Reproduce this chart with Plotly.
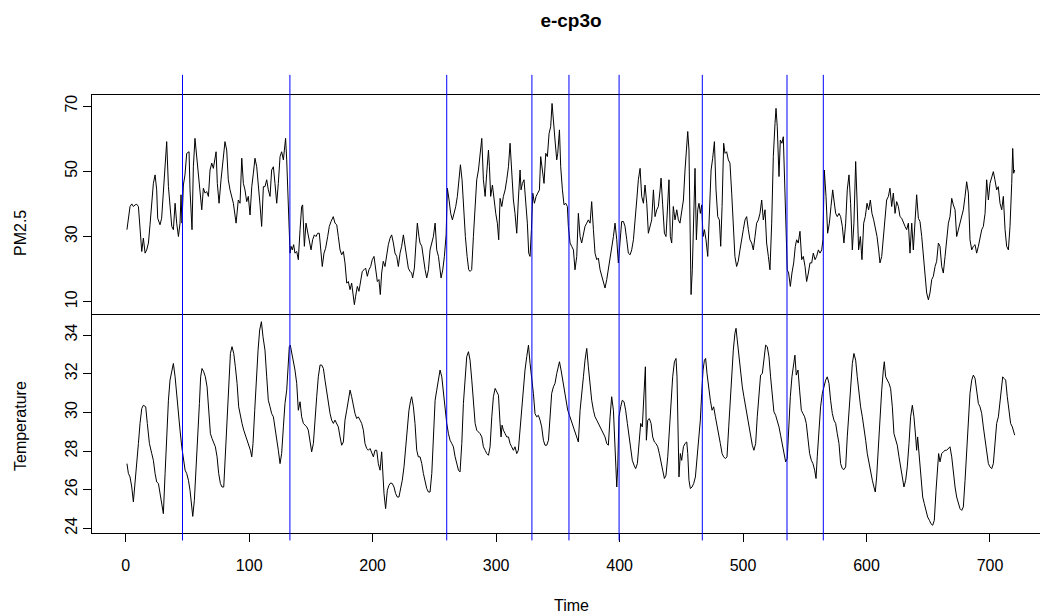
import plotly.graph_objects as go

# Hourly PM2.5 readings (time, value)
pm25 = [
    (1, 32.1), (3.5, 39.2), (4.9, 40.0), (6.2, 39.2), (7.6, 39.7), (8.9, 39.9), (10.3, 39.2), (11.6, 31.0),
    (13.0, 25.4), (14.3, 29.5), (15.7, 24.9), (17.0, 25.9), (18.4, 28.0), (19.7, 33.6), (21.1, 39.2), (22.4, 46.3),
    (23.8, 48.9), (25.1, 44.3), (25.9, 35.6), (27.8, 33.6), (29.1, 35.6), (30.5, 44.3), (31.9, 51.4), (33.2, 59.1),
    (34.6, 45.3), (35.9, 40.2), (37.3, 33.1), (38.6, 32.1), (40.0, 40.2), (41.3, 34.1), (42.7, 30.0), (44.0, 34.1),
    (44.8, 42.8), (45.6, 34.1), (46.7, 45.8), (48.0, 48.9), (49.4, 55.5), (51.3, 56.0), (52.1, 44.3), (53.7, 32.1),
    (54.8, 51.4), (56.1, 60.1), (57.5, 54.5), (58.8, 50.4), (60.2, 44.3), (61.6, 38.2), (62.9, 44.8), (64.3, 43.3),
    (65.6, 43.8), (67.0, 42.3), (68.3, 50.4), (69.7, 52.5), (71.0, 50.9), (72.4, 53.5), (73.2, 56.0), (74.2, 46.3),
    (75.6, 40.2), (77.2, 47.4), (79.1, 54.5), (80.4, 59.1), (81.8, 56.5), (83.1, 47.4), (84.5, 44.3), (85.8, 42.3),
    (87.2, 40.2), (89.4, 34.1), (91.2, 41.2), (92.6, 40.2), (94.0, 54.0), (95.3, 46.3), (96.6, 44.3), (98.0, 40.7),
    (99.3, 42.3), (100.7, 36.6), (102.1, 45.3), (103.4, 49.4), (104.7, 54.0), (106.1, 51.4), (107.4, 44.3),
    (108.8, 39.7), (110.1, 33.1), (111.5, 45.3),
    (112.8, 45.3), (114.2, 47.4), (115.5, 44.3), (116.9, 42.3), (118.2, 50.4), (119.6, 51.4), (120.9, 46.3),
    (122.3, 40.2), (123.6, 46.3), (125.0, 54.5), (126.3, 56.0), (127.7, 53.5), (128.5, 56.5), (129.5, 60.1),
    (130.4, 53.5), (131.2, 44.3), (132.2, 36.1), (133.1, 24.9), (133.9, 27.0), (134.9, 25.9), (136.0, 27.5),
    (137.1, 24.9), (138.5, 25.4), (139.8, 22.9), (141.2, 32.1), (142.5, 39.2), (143.3, 39.7), (144.7, 27.0),
    (146.0, 34.1), (147.4, 31.0), (148.7, 28.0), (150.1, 25.9), (151.4, 29.0), (152.8, 30.5), (154.1, 30.0),
    (155.5, 31.0), (156.8, 31.0), (158.2, 25.9), (159.2, 20.8), (160.6, 24.9), (161.9, 26.4), (163.6, 30.0),
    (164.9, 33.1), (166.3, 34.6), (168.1, 36.1), (169.5, 34.1), (170.9, 33.6), (172.2, 30.0), (173.6, 25.9),
    (174.9, 24.4), (176.3, 25.4), (177.6, 21.9), (179.0, 15.7), (180.3, 16.2), (181.7, 13.7), (183.0, 15.7),
    (184.4, 12.2), (185.2, 9.1), (186.2, 11.7), (187.6, 14.7), (188.9, 13.2), (190.3, 16.8), (191.6, 19.3),
    (193.0, 19.8), (194.3, 20.3), (195.7, 17.8), (197.0, 19.8), (198.4, 20.8), (199.7, 22.9), (201.1, 23.9),
    (202.4, 19.8), (203.8, 16.2), (205.1, 16.8), (206.2, 12.2), (207.3, 18.8), (208.6, 22.4), (210.0, 20.8),
    (211.4, 24.9), (212.7, 27.5), (214.1, 29.5), (215.4, 30.5), (216.8, 28.0), (218.1, 24.9), (219.5, 23.9),
    (220.8, 20.8), (222.2, 24.9), (223.5, 27.0), (224.9, 30.5), (226.2, 27.0), (227.6, 22.9), (228.9, 20.3),
    (230.3, 19.3), (231.6, 18.8), (232.4, 17.3), (233.8, 20.3), (235.1, 28.0), (236.2, 34.1), (237.5, 30.0),
    (238.4, 28.0), (239.8, 27.0), (241.1, 22.9), (242.5, 19.8), (243.8, 17.3), (245.2, 19.8), (246.5, 25.9),
    (247.9, 28.0), (249.2, 30.0), (250.6, 34.1), (251.9, 25.9), (253.3, 23.9), (254.6, 19.8), (255.4, 17.3),
    (256.8, 19.8), (258.1, 23.9), (259.5, 30.5), (260.5, 44.8), (261.9, 41.2), (263.2, 37.1), (264.6, 35.1),
    (265.9, 37.1), (267.3, 39.2), (268.6, 42.3), (270.0, 48.4), (271.1, 52.0), (272.4, 47.4), (273.8, 36.1),
    (275.1, 30.0), (276.5, 23.9), (277.8, 19.8), (278.9, 19.3), (280.2, 19.8), (281.6, 30.0), (283.0, 40.7),
    (284.3, 47.4), (285.7, 50.4), (287.0, 54.5), (288.4, 60.1), (289.7, 47.4), (291.1, 42.3), (292.4, 49.4),
    (293.8, 56.5), (294.6, 51.4), (295.6, 42.3), (297.0, 45.8), (298.3, 41.2), (299.7, 37.1), (301.0, 34.1),
    (302.1, 29.0), (303.2, 41.7), (304.6, 39.2), (305.9, 42.3), (307.3, 44.3), (308.6, 47.4), (310.0, 51.4),
    (311.3, 58.6), (312.6, 49.4), (314.0, 41.2), (315.3, 37.1), (316.7, 31.0), (318.0, 41.2), (319.4, 50.4),
    (320.2, 44.3), (321.3, 46.3), (322.6, 47.4), (324.0, 40.2), (325.3, 34.1), (326.4, 24.9), (327.5, 23.9),
    (328.6, 32.1), (329.7, 43.3), (331.0, 40.2), (332.4, 42.3), (333.7, 43.3), (335.1, 44.3), (336.1, 54.5),
    (337.5, 50.4), (338.8, 46.3), (340.2, 55.5), (341.5, 54.5), (342.9, 61.6), (344.2, 63.7), (345.3, 70.8),
    (346.4, 64.7), (347.7, 59.6), (349.1, 53.5), (349.9, 55.5), (351.3, 62.7), (352.3, 51.4), (353.7, 44.3),
    (355.0, 39.7), (356.4, 40.2), (357.7, 39.2), (358.5, 33.1), (359.9, 28.0), (361.2, 27.0), (362.6, 25.9),
    (363.9, 19.8), (365.3, 23.9), (366.6, 37.1), (368.0, 30.0), (369.3, 28.0), (370.7, 31.0), (372.0, 33.1),
    (373.4, 34.1), (374.7, 35.1), (376.1, 34.1), (377.4, 40.7), (378.8, 32.1), (380.1, 24.9), (381.5, 22.9),
    (382.8, 23.4), (384.2, 19.8), (385.5, 17.8), (386.9, 15.7), (388.2, 14.2), (389.6, 16.8), (390.9, 19.8),
    (392.3, 23.9), (393.6, 25.9), (395.0, 30.0), (396.3, 34.1), (397.7, 29.0), (399.0, 21.9), (400.4, 30.0),
    (401.7, 34.6), (403.1, 34.6), (404.4, 33.1), (405.8, 29.0), (407.1, 24.9), (408.5, 24.4), (409.8, 25.9),
    (411.2, 29.0), (412.5, 34.1), (413.9, 41.2), (415.2, 47.4), (416.6, 50.9), (417.9, 42.3), (419.3, 40.2),
    (420.6, 45.8), (422.0, 40.2), (423.3, 31.0), (424.7, 33.1), (426.0, 35.1), (427.4, 44.3), (428.7, 36.1),
    (430.1, 38.2), (431.4, 39.2), (432.8, 44.3), (433.6, 47.9), (434.9, 39.7), (436.3, 31.0), (437.6, 30.0),
    (439.0, 40.2), (440.0, 47.4), (441.1, 30.0), (442.2, 28.0), (443.5, 39.2), (444.9, 35.1), (446.3, 38.2),
    (447.6, 35.1), (448.9, 34.1), (450.3, 37.1), (451.7, 41.2), (453.0, 50.4), (454.1, 55.5), (455.2, 62.2),
    (456.2, 56.5), (457.3, 16.8), (457.9, 12.2), (458.9, 19.8), (460.0, 41.2), (461.1, 50.9), (462.2, 29.0),
    (463.3, 38.2), (464.3, 40.2), (465.4, 37.1), (466.5, 39.7), (467.6, 30.0), (468.7, 32.1), (470.0, 29.0),
    (471.4, 23.9), (472.7, 35.1), (474.1, 50.4), (475.4, 54.0), (476.8, 59.1), (478.1, 44.3), (479.5, 36.1),
    (480.8, 35.1), (481.9, 27.0), (483.0, 39.2), (484.3, 58.6), (485.4, 55.5), (486.7, 56.0), (488.1, 53.5),
    (489.4, 52.5), (490.8, 43.3), (492.1, 32.1), (493.4, 23.9), (494.8, 20.8), (496.1, 22.4), (497.5, 25.9),
    (498.9, 30.0), (500.2, 32.1), (501.6, 35.1), (502.9, 36.1), (504.3, 32.1), (505.6, 29.0), (507.0, 28.0),
    (508.3, 25.9), (509.7, 30.0), (511.0, 34.1), (512.4, 35.1), (513.7, 37.1), (515.1, 41.2), (516.4, 35.1),
    (517.8, 38.2), (519.1, 28.0), (520.5, 23.9), (521.8, 19.8), (523.2, 34.1), (524.5, 54.5), (525.9, 64.7),
    (526.7, 69.3), (527.7, 63.7), (529.1, 48.4), (530.2, 59.6), (531.5, 58.6), (532.6, 60.6), (533.4, 48.4),
    (534.8, 28.0), (535.8, 19.8), (536.9, 18.8), (538.3, 14.7), (539.6, 18.8), (541.0, 21.9), (542.3, 26.9),
    (543.4, 29.0), (544.7, 28.0), (546.1, 31.6), (547.5, 22.9), (548.8, 23.9), (550.2, 20.8), (551.5, 16.2),
    (552.9, 18.8), (554.2, 21.9), (555.6, 21.9), (556.9, 24.9), (558.3, 22.9), (559.6, 23.9), (561.0, 25.9),
    (562.3, 24.9), (563.7, 25.9), (564.7, 29.0), (565.8, 50.4), (567.2, 42.3), (568.5, 31.0), (569.9, 34.1),
    (571.2, 39.2), (572.6, 44.3), (573.6, 41.2), (575.0, 37.1), (576.3, 36.1), (577.7, 37.1), (579.0, 36.1),
    (580.4, 33.1), (581.7, 28.0), (583.1, 34.1), (584.4, 44.3), (585.8, 48.9), (587.1, 40.2), (588.5, 25.9),
    (589.8, 34.1), (591.2, 53.0), (592.3, 41.2), (593.6, 25.9), (595.0, 30.0), (596.3, 22.9), (597.7, 34.1),
    (599.0, 36.1), (600.4, 40.2), (601.7, 38.2), (603.1, 41.2), (604.4, 37.1), (605.8, 35.1), (607.1, 33.1),
    (608.5, 30.0), (609.8, 25.9),
    (610.9, 21.9), (612.3, 23.9), (613.6, 29.0), (615.0, 36.1), (616.3, 41.2), (617.7, 42.3), (619.0, 44.8),
    (620.4, 39.2), (621.7, 43.3), (623.1, 37.1), (624.4, 40.7), (625.8, 39.2), (627.1, 36.1), (628.5, 35.6),
    (629.8, 34.1), (631.2, 33.1), (632.5, 32.1), (633.9, 34.1), (635.2, 24.9), (636.6, 34.1), (637.9, 25.9),
    (639.3, 35.6), (640.6, 42.8), (642.0, 35.6), (643.3, 34.6), (644.7, 30.0), (646.0, 24.9), (647.4, 18.8),
    (648.7, 12.7), (650.1, 10.6), (651.4, 12.7), (652.8, 16.8), (654.1, 17.8), (655.5, 20.8), (656.8, 22.4),
    (658.2, 28.0), (659.5, 27.0), (660.9, 20.8), (662.2, 18.8), (663.6, 23.9), (664.9, 28.0), (666.3, 34.1),
    (667.6, 36.1), (669.0, 41.7), (670.3, 39.7), (671.7, 38.2), (673.0, 30.0), (674.4, 32.1), (675.7, 34.1),
    (677.1, 36.1), (678.4, 38.2), (679.8, 42.3), (681.1, 46.8), (682.5, 43.3), (683.8, 29.0), (685.2, 25.9),
    (686.5, 27.0), (687.9, 27.5), (689.2, 24.9), (690.6, 27.0), (691.9, 30.0), (693.3, 32.1), (694.6, 33.1),
    (696.0, 37.1), (697.3, 47.4), (698.7, 41.2), (700.0, 46.3), (701.4, 48.4), (702.7, 49.9), (704.0, 47.4),
    (705.4, 44.3), (706.7, 45.3), (708.1, 40.2), (709.5, 38.2), (710.8, 42.3), (712.2, 32.1), (713.5, 27.0),
    (714.9, 25.9), (716.2, 33.1), (717.6, 46.3), (718.4, 57.0), (719.2, 49.4), (720.0, 50.4),
]

# Hourly temperature readings (time, value)
temperature = [
    (1, 27.35), (2.2, 26.84), (3.5, 26.66), (4.9, 26.14), (6.2, 25.37), (7.6, 26.32), (8.9, 27.18), (10.3, 28.39),
    (11.6, 29.43), (13.0, 30.20), (14.3, 30.37), (16.2, 30.29), (17.5, 29.43), (19.2, 28.39), (21.1, 27.87),
    (22.4, 27.52), (23.8, 26.84), (25.1, 26.40), (26.5, 26.32), (27.8, 25.80), (29.2, 25.28), (30.5, 24.76),
    (31.9, 26.84), (33.2, 28.73), (34.6, 30.63), (35.9, 31.67), (37.3, 32.19), (38.6, 32.53), (40.0, 31.84),
    (41.3, 30.81), (42.7, 29.94), (44.0, 29.08), (45.4, 28.22), (46.7, 27.70), (48.1, 27.01), (49.4, 26.84),
    (50.8, 26.49), (52.1, 25.97), (53.5, 25.11), (54.3, 24.62), (55.6, 25.45), (57.0, 27.01), (58.3, 28.73),
    (59.7, 30.46), (60.7, 31.84), (61.8, 32.27), (63.2, 32.10), (64.5, 31.84), (65.9, 31.32), (67.2, 30.11),
    (68.6, 28.90), (69.9, 28.65), (71.3, 28.47), (72.6, 28.22), (74.0, 27.70), (75.3, 26.84), (76.7, 26.32),
    (78.0, 26.14), (79.4, 26.14), (80.7, 27.87), (82.1, 29.77), (83.4, 31.84), (84.8, 33.05), (86.1, 33.40),
    (87.5, 33.05), (88.8, 32.36), (90.2, 31.50), (91.5, 30.29), (92.9, 29.77), (94.2, 29.43), (95.6, 29.08),
    (96.9, 28.82), (98.3, 28.56), (99.6, 28.39), (101.0, 28.04), (102.1, 27.70), (103.1, 28.39), (104.5, 30.11),
    (105.8, 31.84), (107.2, 33.22), (108.5, 34.26), (109.9, 34.69), (111.2, 33.91),
    (112.8, 33.22), (114.2, 31.84), (115.5, 30.63), (116.9, 30.29), (118.2, 29.94), (119.6, 29.77), (120.9, 29.25),
    (122.3, 28.73), (123.6, 28.04), (125.0, 27.35), (126.3, 27.87), (127.7, 29.25), (129.0, 30.46), (130.4, 31.15),
    (131.7, 32.88), (132.5, 33.40), (133.3, 33.48), (134.4, 33.14), (135.8, 32.70), (137.1, 32.19), (138.5, 31.50),
    (139.8, 30.11), (141.2, 30.55), (142.5, 29.77), (143.9, 29.43), (145.2, 29.34), (146.6, 29.25), (147.9, 29.08),
    (149.3, 28.56), (150.6, 27.96), (152.0, 28.39), (153.3, 29.77), (154.7, 30.81), (156.0, 31.84), (157.4, 32.45),
    (158.7, 32.45), (160.1, 32.27), (161.4, 31.67), (162.8, 30.98), (164.1, 30.46), (165.5, 29.94), (166.8, 29.60),
    (168.2, 29.43), (169.5, 29.60), (170.9, 29.43), (172.2, 29.25), (173.6, 28.73), (174.9, 28.30), (176.3, 28.47),
    (177.6, 29.60), (179.0, 30.11), (180.3, 30.63), (181.7, 31.15), (183.0, 30.81), (184.4, 30.29), (185.7, 29.94),
    (187.1, 29.68), (188.4, 29.77), (189.8, 29.60), (191.1, 29.43), (192.5, 29.08), (193.8, 28.39), (195.2, 28.13),
    (196.5, 28.04), (197.9, 28.13), (199.2, 27.96), (200.6, 27.70), (201.9, 28.04), (203.3, 28.04), (204.6, 27.35),
    (206.0, 27.01), (207.3, 27.96), (208.1, 26.84), (209.2, 25.80), (210.5, 25.02), (211.9, 25.97), (213.2, 26.23),
    (214.6, 26.35), (215.9, 26.32), (217.3, 26.14), (218.6, 25.80), (220.0, 25.62), (221.3, 25.62), (222.7, 26.06),
    (224.0, 26.49), (225.4, 27.18), (226.7, 28.22), (228.1, 29.25), (229.4, 30.11), (230.8, 30.63), (231.6, 30.81),
    (233.0, 30.29), (234.3, 29.43), (235.7, 28.04), (237.0, 27.70),
    (238.4, 27.70), (239.8, 27.35), (241.1, 26.84), (242.5, 26.32), (243.8, 26.06), (245.2, 25.88), (246.5, 25.88),
    (247.9, 26.84), (249.2, 28.73), (250.6, 30.63), (251.9, 31.15), (253.3, 31.67), (254.6, 32.19), (256.0, 31.84),
    (257.3, 30.98), (258.7, 30.11), (260.0, 29.43), (261.4, 28.90), (262.7, 28.56), (264.1, 28.39), (265.4, 28.22),
    (266.8, 27.70), (268.1, 27.35), (269.5, 27.01), (270.8, 26.92), (272.2, 28.39), (273.5, 30.46), (274.9, 31.84),
    (276.2, 32.88), (277.6, 33.14), (278.9, 32.70), (280.3, 31.67), (281.6, 30.46), (283.0, 29.43), (284.3, 29.08),
    (285.7, 28.99), (287.0, 28.90), (288.4, 28.73), (289.7, 28.22), (291.1, 28.04), (292.4, 27.87), (293.8, 27.78),
    (295.1, 28.22), (296.5, 29.77), (297.8, 30.81), (299.2, 31.24), (300.5, 31.07), (301.9, 30.89), (303.2, 29.43),
    (304.0, 28.73), (304.8, 29.34), (305.9, 29.08), (307.3, 28.90), (308.6, 28.73), (310.0, 28.73), (311.3, 28.39),
    (312.6, 28.22), (314.0, 28.04), (315.3, 28.22), (316.7, 27.87), (318.0, 28.04), (319.4, 29.08), (320.7, 30.46),
    (322.1, 31.50), (323.4, 32.19), (324.8, 32.88), (326.2, 33.48), (327.5, 32.53), (328.8, 31.84), (330.2, 30.98),
    (331.5, 29.94), (332.9, 29.77), (334.2, 29.85), (335.6, 29.60), (336.9, 29.25), (338.3, 28.56), (339.6, 28.30),
    (341.0, 28.30), (342.4, 28.56), (343.7, 30.11), (345.0, 30.98), (346.4, 31.32), (347.7, 31.50), (349.1, 32.01),
    (350.4, 32.45), (351.3, 32.62), (352.6, 32.19), (354.0, 31.67), (355.3, 31.15), (356.7, 30.63), (358.0, 30.11),
    (359.4, 29.85), (360.7, 29.60), (362.1, 29.25),
    (363.9, 28.90), (365.3, 28.73), (366.6, 28.47), (368.0, 30.11), (369.3, 31.15), (370.7, 31.84), (372.0, 32.70),
    (373.4, 33.31), (374.7, 32.36), (376.1, 31.32), (377.4, 30.63), (378.8, 30.11), (380.1, 29.77), (381.5, 29.60),
    (382.8, 29.43), (384.2, 29.25), (385.5, 29.08), (386.9, 28.90), (388.2, 28.73), (389.6, 28.39), (390.9, 28.30),
    (392.3, 29.77), (393.6, 30.81), (395.0, 30.11), (396.3, 27.87), (397.7, 26.14), (398.5, 27.18), (399.5, 29.77),
    (400.9, 30.29), (402.2, 30.63), (403.6, 30.55), (404.9, 30.11), (406.3, 29.43), (407.6, 28.73), (409.0, 28.04),
    (410.3, 27.52), (411.7, 27.27), (413.0, 27.09), (414.4, 27.35), (415.7, 28.39), (417.1, 29.43), (418.4, 29.25),
    (419.8, 30.98), (420.9, 32.36), (421.7, 28.56), (422.8, 29.60), (424.1, 29.68), (425.5, 29.43), (426.8, 28.73),
    (428.2, 28.47), (429.5, 28.39), (430.9, 28.22), (432.2, 27.87), (433.6, 27.35), (434.9, 27.01), (436.3, 26.58),
    (437.6, 26.75), (439.0, 27.70), (440.3, 29.25), (441.7, 30.63), (443.0, 31.84), (444.4, 32.62), (445.7, 32.79),
    (446.5, 31.84), (447.3, 28.39), (448.1, 26.66), (449.2, 27.87), (450.3, 27.52), (451.7, 28.22), (453.0, 28.39),
    (454.4, 28.47), (455.2, 27.87), (456.2, 26.49), (457.3, 26.06), (458.7, 26.14), (460.0, 26.32), (461.4, 26.66),
    (462.7, 27.52), (464.1, 28.56), (465.4, 29.60), (466.5, 30.98), (467.6, 32.19), (468.7, 32.70), (469.7, 32.79),
    (470.8, 32.01), (472.2, 31.15), (473.5, 30.63), (474.9, 30.11), (476.2, 30.29), (477.6, 29.77), (478.9, 29.25),
    (480.3, 28.90), (481.6, 28.39), (483.0, 27.87), (484.3, 27.70), (485.7, 27.61), (487.0, 27.70), (488.4, 29.25),
    (489.7, 30.81), (490.8, 31.50), (492.1, 33.22), (493.4, 34.09), (494.3, 34.35), (495.3, 33.74), (496.7, 32.88),
    (498.0, 32.19), (499.4, 31.32), (500.7, 30.81), (502.1, 30.29), (503.4, 29.77), (504.8, 29.25), (506.1, 28.73),
    (507.5, 28.30), (508.8, 28.04), (510.2, 28.39), (511.5, 29.77), (512.9, 30.98), (514.2, 31.93), (515.6, 32.01),
    (516.9, 32.70), (518.3, 33.48), (519.6, 33.40), (521.0, 32.88), (522.3, 31.84), (523.7, 30.81), (525.0, 30.03),
    (526.4, 29.85), (527.7, 29.60), (529.1, 29.25), (530.4, 28.82), (531.8, 28.39), (533.1, 27.87), (534.5, 27.44),
    (535.8, 27.61), (536.9, 29.25), (538.3, 30.81), (539.6, 31.84), (541.0, 32.45), (542.0, 32.96), (543.1, 31.93),
    (544.5, 32.19), (545.8, 31.15), (547.2, 30.11), (548.5, 29.94), (549.9, 29.77), (551.2, 29.43), (552.6, 28.73),
    (553.9, 27.87), (555.3, 27.52), (556.6, 27.35), (558.0, 27.01), (559.1, 26.58), (560.1, 27.70), (561.5, 29.25),
    (562.8, 30.29), (564.2, 30.98), (565.5, 31.32), (566.9, 31.67), (568.2, 31.84), (569.6, 31.50), (570.9, 30.63),
    (572.3, 29.94), (573.6, 29.60), (575.0, 29.43), (576.3, 28.90), (577.7, 28.39), (579.0, 27.35), (580.4, 27.09),
    (581.7, 27.04), (583.1, 27.18), (584.4, 28.73), (585.8, 30.11), (587.1, 31.32), (588.5, 32.53), (589.8, 33.05),
    (591.2, 32.70), (592.5, 31.84), (593.9, 30.98), (595.2, 30.29), (596.6, 29.77), (597.9, 29.25), (599.3, 28.56),
    (600.6, 27.87), (602.0, 27.35), (603.3, 26.84), (604.7, 26.49), (606.0, 26.14), (607.1, 25.88), (608.2, 26.66),
    (609.6, 28.39),
    (610.9, 29.77), (612.3, 31.15), (613.6, 32.19), (614.4, 32.62), (615.5, 31.84), (616.8, 31.67), (618.2, 31.50),
    (619.5, 31.24), (620.9, 30.29), (622.2, 28.90), (623.6, 28.56), (624.9, 28.30), (626.3, 27.70), (627.6, 27.18),
    (629.0, 26.66), (630.3, 26.14), (631.7, 26.49), (633.0, 27.18), (634.4, 28.39), (635.7, 29.77), (637.1, 30.37),
    (638.4, 29.77), (639.8, 28.73), (640.6, 28.04), (641.4, 28.73), (642.8, 27.52), (644.1, 26.49), (645.5, 25.62),
    (646.8, 25.28), (648.2, 24.93), (649.5, 24.59), (650.9, 24.42), (652.2, 24.24), (653.6, 24.16), (654.9, 24.42),
    (656.3, 25.97), (657.6, 27.52), (658.4, 27.87), (659.5, 27.44), (660.9, 27.87), (662.2, 27.96), (663.6, 28.04),
    (664.9, 28.04), (666.3, 28.13), (667.6, 28.22), (669.0, 27.70), (670.3, 26.84), (671.7, 26.14), (673.0, 25.62),
    (674.4, 25.28), (675.7, 25.02), (677.1, 24.93), (678.4, 25.11), (679.8, 26.49), (681.1, 28.04), (682.5, 29.43),
    (683.8, 30.98), (685.2, 31.67), (686.5, 31.93), (687.9, 31.76), (689.2, 31.15), (690.6, 30.46), (691.9, 30.29),
    (693.3, 29.94), (694.6, 29.25), (696.0, 28.56), (697.3, 27.87), (698.7, 27.35), (700.0, 27.18), (701.4, 27.09),
    (702.7, 27.35), (704.1, 28.39), (705.4, 29.43), (706.8, 29.77), (708.1, 30.63), (709.5, 31.67), (710.3, 31.84),
    (711.3, 31.76), (712.7, 31.67), (714.0, 30.81), (715.4, 29.94), (716.7, 29.43), (718.1, 29.25), (719.4, 28.99),
    (720.0, 28.82),
]

# Estimated change points
change_points = [46, 133, 260, 329, 359, 399.6, 467, 535.6, 565]

x_ticks = [0, 100, 200, 300, 400, 500, 600, 700]
pm_ticks = [10, 30, 50, 70]
temp_ticks = [24, 26, 28, 30, 32, 34]

FONT = "Liberation Sans, Arial, sans-serif"

pm_t, pm_v = zip(*pm25)
tp_t, tp_v = zip(*temperature)

fig = go.Figure()
fig.add_trace(go.Scatter(x=pm_t, y=pm_v, mode="lines", xaxis="x2", yaxis="y2",
                         line=dict(color="black", width=1), showlegend=False, hoverinfo="skip"))
fig.add_trace(go.Scatter(x=tp_t, y=tp_v, mode="lines", xaxis="x", yaxis="y",
                         line=dict(color="black", width=1), showlegend=False, hoverinfo="skip"))

# Change-point markers spanning both panels
for cp in change_points:
    fig.add_shape(type="line", xref="x", yref="paper", x0=cp, x1=cp, y0=-0.017, y1=1.046,
                  line=dict(color="rgb(0,0,255)", width=1), layer="above")

axis_common = dict(showgrid=False, zeroline=False, color="black",
                   tickfont=dict(family=FONT, size=16, color="black"))

fig.update_layout(
    width=1040, height=613,
    margin=dict(l=92, r=0, t=95, b=80),
    plot_bgcolor="white", paper_bgcolor="white",
    title=dict(text="<b>e-cp3o</b>", x=571 / 1040, xanchor="center", y=1 - 20 / 613, yanchor="middle",
               font=dict(family=FONT, size=19, color="black")),
    xaxis=dict(domain=[0, 1], range=[-27.3, 740.5], anchor="y", tickmode="array", tickvals=x_ticks,
               ticks="outside", ticklen=8, tickwidth=1, showline=True, linewidth=1, linecolor="black",
               ticklabelstandoff=10, **axis_common),
    xaxis2=dict(domain=[0, 1], matches="x", anchor="y2", showticklabels=False, ticks="",
                showline=True, mirror=True, linewidth=1, linecolor="black",
                showgrid=False, zeroline=False),
    yaxis=dict(domain=[0, 0.5], range=[23.76, 35.09], anchor="x", tickmode="array", tickvals=temp_ticks,
               ticks="outside", ticklen=8, tickwidth=1, showline=True, linewidth=1, linecolor="black",
               tickangle=-90, **axis_common),
    yaxis2=dict(domain=[0.5, 1], range=[6.24, 73.4], anchor="x2", tickmode="array", tickvals=pm_ticks,
                ticks="outside", ticklen=8, tickwidth=1, showline=True, linewidth=1, linecolor="black",
                tickangle=-90, **axis_common),
)

label_font = dict(family=FONT, size=16, color="black")
fig.add_annotation(text="PM2.5", xref="paper", yref="paper", x=-72 / 948, y=(533 - 233) / 438, textangle=-90,
                   showarrow=False, font=label_font, xanchor="center", yanchor="middle")
fig.add_annotation(text="Temperature", xref="paper", yref="paper", x=-72 / 948, y=(533 - 426) / 438,
                   textangle=-90, showarrow=False, font=label_font, xanchor="center", yanchor="middle")
fig.add_annotation(text="Time", xref="paper", yref="paper", x=(571 - 92) / 948, y=-72 / 438,
                   showarrow=False, font=label_font, xanchor="center", yanchor="middle")

fig.write_html("out.html")
